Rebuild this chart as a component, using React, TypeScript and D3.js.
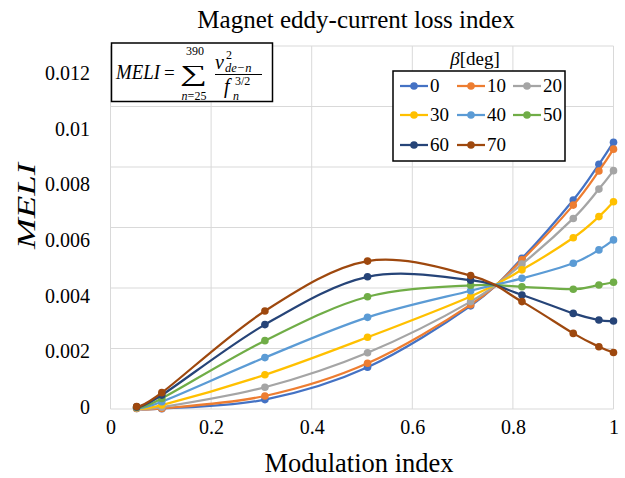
import * as React from 'react';
import * as d3 from 'd3';

// modulation index of each sample point
const modulationIndex = [0.052, 0.102, 0.307, 0.511, 0.716, 0.818, 0.92, 0.971, 1.0];

// beta [deg] of each series
const betaDeg = ['0', '10', '20', '30', '40', '50', '60', '70'];

// MELI per beta
const meliBeta0 = [0.00002, 0.00001, 0.00031, 0.00138, 0.00341, 0.00498, 0.00691, 0.00809, 0.00882];
const meliBeta10 = [0.00002, 0.00002, 0.00043, 0.00151, 0.00345, 0.00493, 0.00674, 0.00787, 0.00859];
const meliBeta20 = [0.00003, 0.00006, 0.00072, 0.00186, 0.00355, 0.00479, 0.0063, 0.00727, 0.00788];
const meliBeta30 = [0.00004, 0.00013, 0.00113, 0.00237, 0.00372, 0.0046, 0.00566, 0.00636, 0.00685];
const meliBeta40 = [0.00005, 0.00024, 0.0017, 0.00303, 0.00391, 0.00432, 0.00482, 0.00526, 0.00559];
const meliBeta50 = [0.00006, 0.00035, 0.00226, 0.00371, 0.00409, 0.00404, 0.00396, 0.0041, 0.00419];
const meliBeta60 = [0.00007, 0.00046, 0.00279, 0.00437, 0.00426, 0.00377, 0.00316, 0.00294, 0.00291];
const meliBeta70 = [0.00008, 0.00054, 0.00324, 0.00489, 0.00441, 0.00355, 0.0025, 0.00206, 0.00187];

const xTicks = [0, 0.2, 0.4, 0.6, 0.8, 1];
const yTicks = [0, 0.002, 0.004, 0.006, 0.008, 0.01, 0.012];

const colors = ['#4472c4', '#ed7d31', '#a5a5a5', '#ffc000', '#5b9bd5', '#70ad47', '#264478', '#9e480e'];

const width = 625;
const height = 478;
const plot = { left: 110.5, right: 613.5, top: 46, bottom: 409 };
const serif = '"Liberation Serif", "Times New Roman", serif';

export default class App extends React.Component {
  public svgRef: React.RefObject<SVGSVGElement>;

  constructor(props: any) {
    super(props);
    this.svgRef = React.createRef();
  }

  public componentDidMount() {
    this.draw();
  }

  public draw() {
    const svg = d3.select(this.svgRef.current);
    svg.selectAll('*').remove();

    const series = [meliBeta0, meliBeta10, meliBeta20, meliBeta30, meliBeta40, meliBeta50, meliBeta60, meliBeta70];

    const x = d3.scaleLinear().domain([0, 1]).range([plot.left, plot.right]);
    const y = d3.scaleLinear().domain([0, 0.012]).range([plot.bottom, plot.top]);
    // the tick labels in the picture sit a little tighter than the grid
    const yLabel = d3.scaleLinear().domain([0, 0.012]).range([407, 73]);

    svg.append('rect').attr('width', width).attr('height', height).attr('fill', '#fff');

    // grid
    const grid = svg.append('g').attr('stroke', '#d9d9d9').attr('stroke-width', 1);
    grid
      .selectAll('.gx')
      .data(xTicks)
      .enter()
      .append('line')
      .attr('x1', d => x(d))
      .attr('x2', d => x(d))
      .attr('y1', plot.top)
      .attr('y2', plot.bottom);
    grid
      .selectAll('.gy')
      .data(yTicks)
      .enter()
      .append('line')
      .attr('x1', plot.left)
      .attr('x2', plot.right)
      .attr('y1', d => y(d))
      .attr('y2', d => y(d));

    // axes
    const xAxis = svg
      .append('g')
      .attr('transform', `translate(0,${plot.bottom})`)
      .call(d3.axisBottom(x).tickValues(xTicks).tickSize(0).tickPadding(11).tickFormat(d => String(d)));
    const yAxis = svg
      .append('g')
      .attr('transform', 'translate(90,0)')
      .call(d3.axisLeft(yLabel).tickValues(yTicks).tickSize(0).tickPadding(0).tickFormat(d => String(d)));
    [xAxis, yAxis].forEach(a => {
      a.select('.domain').remove();
      a.selectAll('text').attr('font-family', serif).attr('font-size', 20).attr('fill', '#000');
    });

    // series
    const line = d3
      .line<number>()
      .x((_, i) => x(modulationIndex[i]))
      .y(d => y(d))
      .curve(d3.curveCatmullRom.alpha(0));

    series.forEach((values, k) => {
      const g = svg.append('g');
      g.append('path')
        .attr('d', line(values))
        .attr('fill', 'none')
        .attr('stroke', colors[k])
        .attr('stroke-width', 2.25);
      g.selectAll('circle')
        .data(values)
        .enter()
        .append('circle')
        .attr('cx', (_, i) => x(modulationIndex[i]))
        .attr('cy', d => y(d))
        .attr('r', 3.8)
        .attr('fill', colors[k]);
    });

    // titles
    svg
      .append('text')
      .attr('x', 356)
      .attr('y', 28)
      .attr('text-anchor', 'middle')
      .attr('font-family', serif)
      .attr('font-size', 25)
      .text('Magnet eddy-current loss index');
    svg
      .append('text')
      .attr('x', 359)
      .attr('y', 472)
      .attr('text-anchor', 'middle')
      .attr('font-family', serif)
      .attr('font-size', 26.5)
      .text('Modulation index');
    svg
      .append('text')
      .attr('transform', 'translate(35,206) rotate(-90)')
      .attr('text-anchor', 'middle')
      .attr('font-family', serif)
      .attr('font-style', 'italic')
      .attr('font-size', 25)
      .attr('textLength', 86)
      .attr('lengthAdjust', 'spacingAndGlyphs')
      .text('MELI');

    // formula box
    const f = svg.append('g').attr('font-family', serif).attr('font-style', 'italic');
    f.append('rect')
      .attr('x', 111.5)
      .attr('y', 43)
      .attr('width', 161)
      .attr('height', 58.5)
      .attr('fill', '#fff')
      .attr('stroke', '#000')
      .attr('stroke-width', 1.5);
    f.append('text')
      .attr('x', 116)
      .attr('y', 79)
      .attr('font-size', 20)
      .attr('textLength', 44)
      .attr('lengthAdjust', 'spacingAndGlyphs')
      .text('MELI');
    f.append('text').attr('x', 164).attr('y', 79).attr('font-size', 19).attr('font-style', 'normal').text('=');
    f.append('text')
      .attr('x', 180)
      .attr('y', 81)
      .attr('font-size', 23)
      .attr('font-style', 'normal')
      .attr('textLength', 27)
      .attr('lengthAdjust', 'spacingAndGlyphs')
      .text('\u2211');
    f.append('text')
      .attr('x', 195)
      .attr('y', 55)
      .attr('text-anchor', 'middle')
      .attr('font-size', 12)
      .attr('font-style', 'normal')
      .text('390');
    const low = f.append('text').attr('x', 194).attr('y', 100).attr('text-anchor', 'middle').attr('font-size', 12);
    low.append('tspan').text('n');
    low.append('tspan').attr('font-style', 'normal').text('=25');
    f.append('text').attr('x', 215).attr('y', 69).attr('font-size', 20).text('v');
    f.append('text').attr('x', 226).attr('y', 59).attr('font-size', 12).attr('font-style', 'normal').text('2');
    f.append('text').attr('x', 225).attr('y', 72).attr('font-size', 12.5).text('de\u2212n');
    f.append('line')
      .attr('x1', 215)
      .attr('x2', 262)
      .attr('y1', 74.5)
      .attr('y2', 74.5)
      .attr('stroke', '#000')
      .attr('stroke-width', 1);
    f.append('text').attr('x', 224).attr('y', 93).attr('font-size', 20).text('f');
    f.append('text').attr('x', 235).attr('y', 85).attr('font-size', 12).attr('font-style', 'normal').text('3/2');
    f.append('text').attr('x', 233).attr('y', 100).attr('font-size', 12).text('n');

    // legend
    const lg = svg.append('g').attr('font-family', serif);
    const beta = lg.append('text').attr('x', 475).attr('y', 65).attr('text-anchor', 'middle').attr('font-size', 19);
    beta.append('tspan').attr('font-style', 'italic').text('\u03b2');
    beta.append('tspan').text('[deg]');
    lg.append('rect')
      .attr('x', 393)
      .attr('y', 71)
      .attr('width', 172)
      .attr('height', 90)
      .attr('fill', '#fff')
      .attr('stroke', '#000')
      .attr('stroke-width', 1.5);
    const colX = [400, 457, 513];
    const rowY = [86, 115, 145];
    betaDeg.forEach((label, k) => {
      const cx = colX[k % 3];
      const cy = rowY[Math.floor(k / 3)];
      const item = lg.append('g').attr('transform', `translate(${cx},${cy})`);
      item
        .append('line')
        .attr('x1', 0)
        .attr('x2', 28)
        .attr('stroke', colors[k])
        .attr('stroke-width', 2.25);
      item.append('circle').attr('cx', 14).attr('r', 3.8).attr('fill', colors[k]);
      item
        .append('text')
        .attr('x', 30)
        .attr('dy', '0.33em')
        .attr('font-size', 19)
        .text(label);
    });
  }

  public render() {
    return (
      <svg
        ref={this.svgRef}
        width={width}
        height={height}
        style={{ position: 'absolute', left: 0, top: 0 }}
      />
    );
  }
}
